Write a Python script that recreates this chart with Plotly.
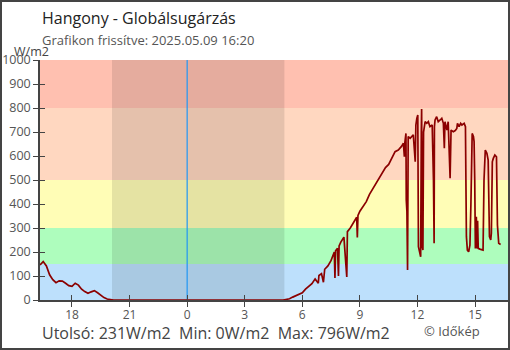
import plotly.graph_objects as go

# Global radiation readings, W/m2
evening_date = "2025-05-08"
evening_times = ["16:20", "16:30", "16:40", "16:50", "17:00", "17:10", "17:20", "17:30",
                 "17:40", "17:50", "18:00", "18:10", "18:20", "18:30", "18:40", "18:50",
                 "19:00", "19:10", "19:20", "19:30", "19:40", "19:50", "20:00", "20:10"]
evening_vals = [146, 160, 142, 105, 85, 72, 80, 79,
                70, 60, 57, 70, 62, 45, 35, 28,
                34, 39, 30, 20, 10, 4, 2, 0]

day_date = "2025-05-09"
day_times = ["05:00", "05:10", "05:20", "05:30", "05:40", "05:50", "06:00", "06:10",
             "06:20", "06:30", "06:40", "06:50", "06:52", "07:00", "07:06", "07:08",
             "07:10", "07:20", "07:30", "07:40", "07:42", "07:44", "07:50", "07:53",
             "07:55", "08:00", "08:10", "08:19", "08:21", "08:30", "08:40", "08:50",
             "08:52", "08:54", "09:00", "09:10", "09:20", "09:30", "09:40", "09:50",
             "10:00", "10:10", "10:20", "10:30", "10:40", "10:50", "11:00", "11:06",
             "11:10", "11:16", "11:19", "11:20", "11:24", "11:25", "11:27", "11:29",
             "11:31", "11:37", "11:43", "11:47", "11:53", "11:55", "11:58", "12:01",
             "12:03", "12:05", "12:08", "12:10", "12:12", "12:13", "12:15", "12:17",
             "12:19", "12:21", "12:24", "12:29", "12:34", "12:39", "12:46", "12:50",
             "12:52", "12:53", "12:55", "13:00", "13:05", "13:11", "13:16", "13:21",
             "13:24", "13:26", "13:32", "13:36", "13:42", "13:45", "13:52", "13:58",
             "14:03", "14:05", "14:10", "14:15", "14:19", "14:26", "14:30", "14:33",
             "14:36", "14:40", "14:44", "14:47", "14:51", "14:55", "14:57", "14:59",
             "15:01", "15:04", "15:06", "15:08", "15:10", "15:15", "15:21", "15:25",
             "15:28", "15:32", "15:37", "15:41", "15:45", "15:49", "15:51", "15:54",
             "15:57", "16:02", "16:07", "16:10", "16:14", "16:20"]
day_vals = [0, 2, 5, 12, 18, 24, 30, 45,
            57, 68, 88, 70, 102, 110, 74, 122,
            128, 142, 165, 200, 92, 205, 215, 100,
            225, 240, 262, 96, 285, 300, 323, 345,
            261, 352, 370, 388, 410, 440, 462, 485,
            508, 530, 552, 565, 590, 618, 625, 632,
            640, 653, 597, 650, 694, 417, 368, 125,
            681, 674, 681, 688, 576, 729, 757, 771,
            222, 208, 194, 180, 700, 796, 222, 208,
            700, 722, 743, 736, 743, 722, 729, 500,
            236, 722, 750, 764, 743, 750, 757, 736,
            632, 743, 708, 743, 507, 708, 701, 706,
            715, 736, 722, 736, 729, 736, 722, 264,
            208, 201, 229, 396, 694, 681, 660, 500,
            215, 347, 215, 330, 215, 212, 208, 208,
            500, 625, 611, 583, 264, 250, 278, 576,
            590, 604, 597, 312, 236, 231]

# Intensity bands (W/m2) and their colours
band_edges = [0, 150, 300, 500, 800, 1000]
band_colors = ["#bde0fc", "#aefdbd", "#fffdb6", "#ffd7c0", "#ffc0b0"]

# Night (sunset to sunrise) and midnight marker
sunset = "2025-05-08 20:05"
sunrise = "2025-05-09 05:04"
midnight = "2025-05-09 00:00"

x_start = "2025-05-08 16:20"
x_end = "2025-05-09 16:43"
updated = "2025.05.09 16:20"

times = [f"{evening_date} {t}" for t in evening_times] + [f"{day_date} {t}" for t in day_times]
vals = evening_vals + day_vals

last_val = vals[-1]
min_val = min(vals)
max_val = max(vals)

fig = go.Figure()
fig.add_trace(go.Scatter(
    x=times, y=vals, mode="lines", line=dict(color="#8b0000", width=1.7, shape="linear"),
    hoverinfo="skip", showlegend=False,
))
# secondary overlay axes carry the inner half of the tick marks
fig.add_trace(go.Scatter(x=[], y=[], xaxis="x2", yaxis="y2", showlegend=False))

shapes = []
for i, c in enumerate(band_colors):
    shapes.append(dict(type="rect", xref="paper", yref="y", x0=0, x1=1,
                       y0=band_edges[i], y1=band_edges[i + 1],
                       fillcolor=c, line=dict(width=0), layer="below"))
shapes.append(dict(type="rect", xref="x", yref="paper", x0=sunset, x1=sunrise, y0=0, y1=1,
                   fillcolor="rgba(0,0,0,0.1)", line=dict(width=0), layer="below"))
shapes.append(dict(type="line", xref="x", yref="paper", x0=midnight, x1=midnight, y0=0, y1=1,
                   line=dict(color="#2196f3", width=1.2), layer="below"))

# frame around the whole picture
W, H, L, R, T, B = 510, 350, 40, 2, 60, 50
pw, ph = W - L - R, H - T - B
shapes.append(dict(type="rect", xref="paper", yref="paper",
                   x0=(1 - L) / pw, x1=(W - 1 - L) / pw,
                   y0=-(B - 1) / ph, y1=(H - 1 - B) / ph,
                   line=dict(color="#444444", width=2), fillcolor="rgba(0,0,0,0)", layer="above"))

def py(pix):
    return (H - B - pix) / ph

font = "Open Sans, Noto Sans, sans-serif"
annotations = [
    dict(text="Hangony - Globálsugárzás", x=0, y=py(18), xref="paper", yref="paper",
         xanchor="left", yanchor="middle", showarrow=False,
         font=dict(family=font, size=16, color="#222222")),
    dict(text=f"Grafikon frissítve: {updated}", x=0, y=py(40), xref="paper", yref="paper",
         xanchor="left", yanchor="middle", showarrow=False,
         font=dict(family=font, size=13, color="#555555")),
    dict(text="W/m2", x=(12 - L) / pw, y=py(52), xref="paper", yref="paper",
         xanchor="left", yanchor="middle", showarrow=False,
         font=dict(family=font, size=12.5, color="#444444")),
    dict(text=f"Utolsó: {last_val}W/m2  Min: {min_val}W/m2  Max: {max_val}W/m2",
         x=0, y=py(333), xref="paper", yref="paper", xanchor="left", yanchor="middle",
         showarrow=False, font=dict(family=font, size=16, color="#444444")),
    dict(text="© Időkép", x=(482 - L) / pw, y=py(331), xref="paper", yref="paper",
         xanchor="right", yanchor="middle", showarrow=False,
         font=dict(family=font, size=13, color="#555555")),
]

tick_common = dict(tickcolor="#444444", tickwidth=1, ticklen=5)
fig.update_layout(
    width=W, height=H, autosize=False,
    margin=dict(l=L, r=R, t=T, b=B, pad=0),
    paper_bgcolor="white", plot_bgcolor="white",
    shapes=shapes, annotations=annotations,
    xaxis=dict(type="date", range=[x_start, x_end], tick0="2025-05-08 00:00",
               dtick=3 * 3600 * 1000, tickformat="%-H", ticks="outside",
               ticklabelstandoff=-2,
               showgrid=False, zeroline=False, showline=True, linecolor="#444444", linewidth=1.5,
               tickfont=dict(family=font, size=12, color="#555555"), fixedrange=True,
               **tick_common),
    yaxis=dict(range=[0, 1000], dtick=100, ticks="outside", showgrid=False, zeroline=False,
               showline=True, linecolor="#444444", linewidth=1.5,
               tickfont=dict(family=font, size=12.5, color="#555555"), fixedrange=True,
               **tick_common),
    xaxis2=dict(type="date", range=[x_start, x_end], tick0="2025-05-08 00:00",
                dtick=3 * 3600 * 1000, overlaying="x", side="bottom", anchor="y2",
                ticks="inside", showticklabels=False, showgrid=False, zeroline=False,
                showline=False, **tick_common),
    yaxis2=dict(range=[0, 1000], dtick=100, overlaying="y", side="left", anchor="x2",
                ticks="inside", showticklabels=False, showgrid=False, zeroline=False,
                showline=False, **tick_common),
)

fig.write_html("out.html")
